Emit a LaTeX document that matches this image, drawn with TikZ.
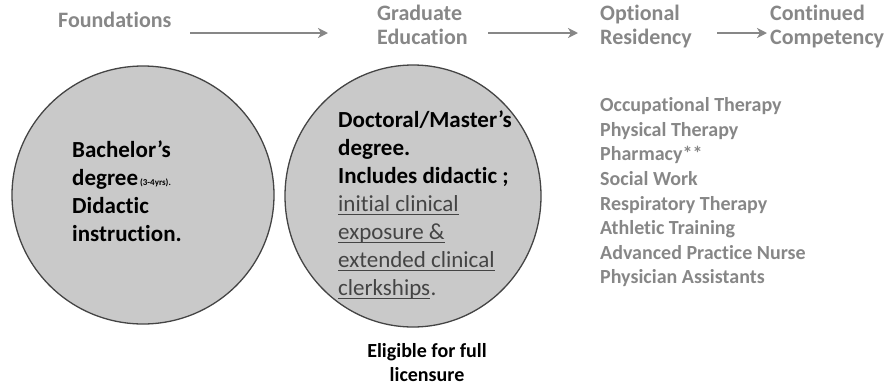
\documentclass[tikz,border=0pt]{standalone}
\usepackage{fontspec}
\setmainfont{Carlito}[Ligatures={NoCommon}]
\usetikzlibrary{arrows.meta,shapes.geometric}
\definecolor{hdgray}{HTML}{878787}
\definecolor{fillgray}{HTML}{C9C9C9}
\definecolor{edgegray}{HTML}{444444}
\definecolor{ulgray}{HTML}{444444}
\begin{document}
\begin{tikzpicture}[x=1pt,y=-1pt,
  hd/.style={anchor=base west, inner sep=0, text=hdgray, font=\fontsize{22}{24}\selectfont\bfseries},
  li/.style={anchor=base west, inner sep=0, text=hdgray, font=\fontsize{20}{24}\selectfont\bfseries},
  ct/.style={anchor=base west, inner sep=0, font=\fontsize{23}{28}\selectfont\bfseries},
  ul/.style={anchor=base west, inner sep=0, text=ulgray, font=\fontsize{23}{28}\selectfont},
  ulline/.style={draw=ulgray, line width=1pt},
  bubble/.style={ellipse, draw=edgegray, fill=fillgray, line width=1.3pt, inner sep=0},
  arr/.style={draw=hdgray, line width=2.5pt, -{Stealth[length=10pt,width=10pt,inset=3pt]}},
  ft/.style={anchor=base, inner sep=0, font=\fontsize{20}{23}\selectfont\bfseries}]
\useasboundingbox (0,0) rectangle (895,389);

% circles
\node[bubble, minimum width=262pt, minimum height=258pt] (c1) at (143,195) {};
\node[bubble, minimum width=256pt, minimum height=262pt] (c2) at (413,196) {};

% headings
\node[hd] (fnd) at (58,27) {Foundations};
\node[hd] (grad1) at (377,20) {Graduate};
\node[hd] (grad2) at (377,44) {Education};
\node[hd] (opt1) at (600,20) {Optional};
\node[hd] (opt2) at (600,44) {Residency};
\node[hd] (cont1) at (770,20) {Continued};
\node[hd] (cont2) at (770,44) {Competency};

% arrows
\coordinate (a1s) at (190,33); \coordinate (a1e) at (328,33);
\coordinate (a2s) at (488,33); \coordinate (a2e) at (578,33);
\coordinate (a3s) at (717,33); \coordinate (a3e) at (767,33);
\draw[arr] (a1s) -- (a1e);
\draw[arr] (a2s) -- (a2e);
\draw[arr] (a3s) -- (a3e);

% circle 1 text
\node[ct] (b1) at (72,157) {Bachelor’s};
\node[ct] (b2) at (72,185) {degree\hspace{2pt}{\fontsize{9}{11}\selectfont(3-4yrs).}};
\node[ct] (b3) at (72,213) {Didactic};
\node[ct] (b4) at (72,241) {instruction.};

% circle 2 text
\node[ct] (d1) at (338,127) {Doctoral/Master’s};
\node[ct] (d2) at (338,155) {degree.};
\node[ct] (d3) at (338,183) {Includes didactic ;};
\node[ul] (u1) at (338,211) {initial clinical};
\node[ul] (u2) at (338,239) {exposure \&};
\node[ul] (u3) at (338,267) {extended clinical};
\node[ul] (u4) at (338,295) {clerkships};
\node[ul] (u4p) at (u4.base east) {.};
\foreach \u in {u1,u2,u3,u4}
  \draw[ulline] ([yshift=-3pt]\u.base west) -- ([yshift=-3pt]\u.base east);

% list
\node[li] (l1) at (600,111) {Occupational Therapy};
\node[li] (l2) at (600,136) {Physical Therapy};
\node[li] (l3) at (600,160) {Pharmacy**};
\node[li] (l4) at (600,185) {Social Work};
\node[li] (l5) at (600,210) {Respiratory Therapy};
\node[li] (l6) at (600,234) {Athletic Training};
\node[li] (l7) at (600,259) {Advanced Practice Nurse};
\node[li] (l8) at (600,283) {Physician Assistants};

% footer
\node[ft] (e1) at (427,357) {Eligible for full};
\node[ft] (e2) at (427,381) {licensure};
\end{tikzpicture}
\end{document}
